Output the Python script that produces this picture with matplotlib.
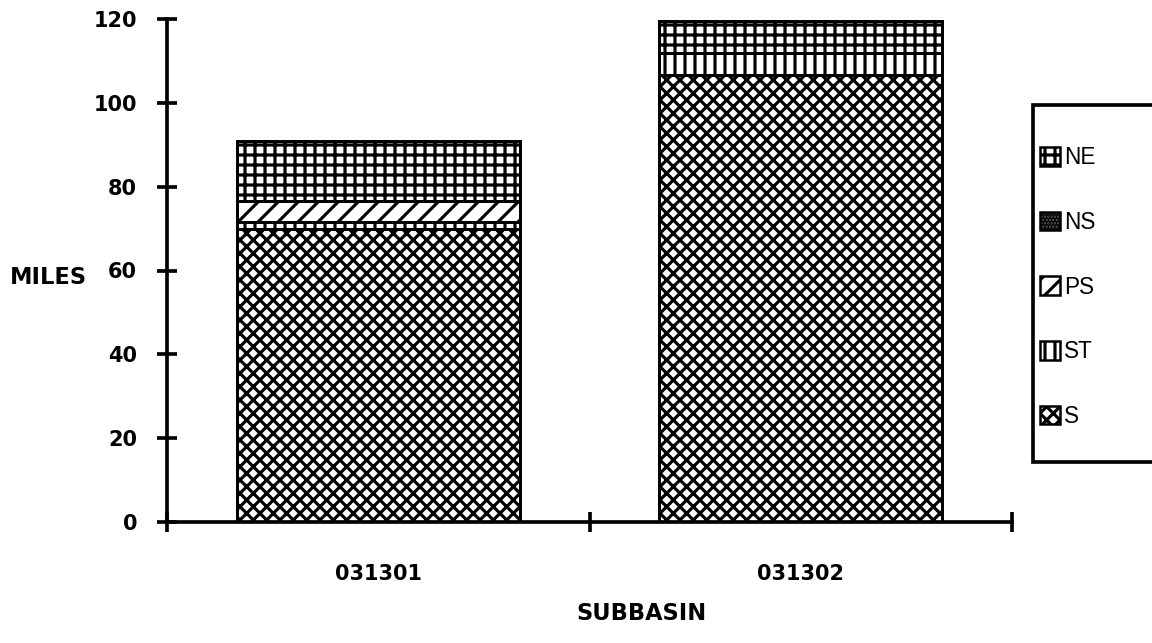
import matplotlib
matplotlib.use("Agg")
import matplotlib.pyplot as plt
from matplotlib.patches import Patch, Rectangle
import numpy as np

# Stream miles by use-support category for each subbasin
subbasins = ["031301", "031302"]
series = ["S", "ST", "PS", "NS", "NE"]
s_miles = [69.8, 106.7]
st_miles = [1.7, 5.2]
ps_miles = [5.0, 0.0]
ns_miles = [0.0, 0.0]
ne_miles = [14.3, 7.6]

y_ticks = [0, 20, 40, 60, 80, 100, 120]

plt.rcParams["hatch.linewidth"] = 1.9
plt.rcParams["hatch.color"] = "black"

fig = plt.figure(figsize=(9.6, 643 / 120), dpi=120)
ax = fig.add_axes([167 / 1152, 1 - 522 / 643, (1012 - 167) / 1152, (522 - 19) / 643])

hatches = {"S": "xxx", "ST": "||", "PS": "//", "NS": "......", "NE": "++"}
faces = {"S": "white", "ST": "white", "PS": "white", "NS": "#555555", "NE": "white"}
values = {"S": s_miles, "ST": st_miles, "PS": ps_miles, "NS": ns_miles, "NE": ne_miles}

x = np.arange(len(subbasins))
bottom = np.zeros(len(subbasins))
for name in series:
    vals = np.array(values[name])
    ax.bar(x, vals, width=0.67, bottom=bottom, facecolor=faces[name],
           edgecolor="black", linewidth=1.8, hatch=hatches[name], zorder=2)
    bottom += vals

ax.set_xlim(-0.5, 1.5)
ax.set_ylim(0, 120)
ax.spines["top"].set_visible(False)
ax.spines["right"].set_visible(False)
for sp in ("left", "bottom"):
    ax.spines[sp].set_linewidth(2.2)
ax.spines["left"].set_bounds(0, 120)

ax.set_yticks(y_ticks)
ax.set_yticklabels([str(v) for v in y_ticks], fontsize=12.5, fontweight="bold",
                   family="DejaVu Sans")
ax.tick_params(axis="y", direction="inout", length=12, width=2.2, pad=12)

ax.set_xticks(x)
ax.set_xticklabels(subbasins, fontsize=12.5, fontweight="bold", family="DejaVu Sans")
ax.tick_params(axis="x", which="major", length=0, pad=25)
ax.set_xticks([-0.5, 0.5, 1.5], minor=True)
ax.tick_params(axis="x", which="minor", direction="inout", length=12, width=2.2)

fig.text(10 / 1152, 1 - 277 / 643, "MILES", fontsize=13.5, fontweight="bold",
         family="DejaVu Sans", va="center", ha="left")
fig.text(642 / 1152, 1 - 613 / 643, "SUBBASIN", fontsize=13.5, fontweight="bold",
         family="DejaVu Sans", va="center", ha="center")

# Legend frame, running off the right edge
frame = Rectangle((1033 / 1152, 1 - 462 / 643), 200 / 1152, (462 - 105) / 643,
                  transform=fig.transFigure, facecolor="white", edgecolor="black",
                  linewidth=2.2, clip_on=False)
fig.add_artist(frame)

handles = [Patch(facecolor=faces[n], edgecolor="black", hatch=hatches[n], linewidth=1.5,
                 label=n) for n in reversed(series)]
leg = fig.legend(handles=handles, loc="center left",
                 bbox_to_anchor=(1040 / 1152, 1 - 287 / 643),
                 frameon=False, handlelength=0.9, handleheight=0.9,
                 handletextpad=0.15, labelspacing=1.85, borderpad=0, borderaxespad=0,
                 prop={"family": "Liberation Sans", "size": 13.5})

fig.savefig("out.png", dpi=120)
